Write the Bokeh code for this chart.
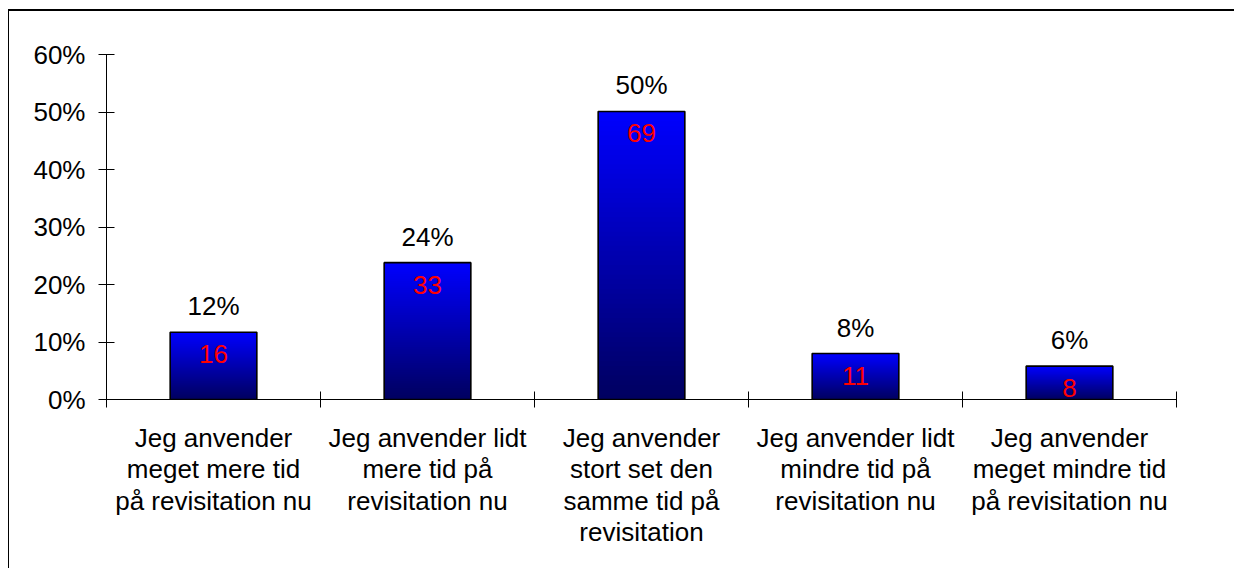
from bokeh.plotting import figure
from bokeh.models import Range1d, FixedTicker, PrintfTickFormatter, ColumnDataSource
from bokeh.core.properties import value
from bokeh.embed import file_html
from bokeh.resources import INLINE

categories = [
    "Jeg anvender\nmeget mere tid\npå revisitation nu",
    "Jeg anvender lidt\nmere tid på\nrevisitation nu",
    "Jeg anvender\nstort set den\nsamme tid på\nrevisitation",
    "Jeg anvender lidt\nmindre tid på\nrevisitation nu",
    "Jeg anvender\nmeget mindre tid\npå revisitation nu",
]
percent_values = [11.7, 23.8, 50.1, 8.0, 5.8]
percent_labels = ["12%", "24%", "50%", "8%", "6%"]
count_labels = ["16", "33", "69", "11", "8"]
y_ticks = [0, 10, 20, 30, 40, 50, 60]

FONT = "Liberation Sans"
FS = "26px"

p = figure(width=1226, height=559, output_backend="svg", toolbar_location=None,
           x_range=Range1d(0, len(categories)), y_range=Range1d(0, 60),
           min_border_left=97, min_border_right=59, min_border_top=43, min_border_bottom=171)
p.styles = {"border-left": "1px solid black", "border-top": "2px solid black",
            "margin-left": "8px", "margin-top": "9px"}
p.outline_line_color = None
p.grid.visible = False
p.background_fill_color = "white"
p.border_fill_color = "white"

centers = [i + 0.5 for i in range(len(categories))]

# gradient: overlapping bars, tallest (brightest) first, shorter darker ones on top
N = 60
xs, tops, cols = [], [], []
for k in range(N - 1, -1, -1):
    t = (k + 0.5) / N
    b = int(round(95 + (255 - 95) * t))
    for c, v in zip(centers, percent_values):
        xs.append(c)
        tops.append(v * (k + 1) / N)
        cols.append("#%02x%02x%02x" % (0, 0, b))
p.vbar(x=xs, bottom=0, top=tops, width=0.405, fill_color=cols, line_color=None)
p.vbar(x=centers, top=percent_values, bottom=0, width=0.405, fill_color=None,
       line_color="black", line_width=1.6)

src = ColumnDataSource(dict(x=centers, y=percent_values, pl=percent_labels, cl=count_labels))
p.text(x="x", y="y", text="pl", source=src, text_align="center", text_baseline="bottom",
       y_offset=-11, text_font=value(FONT), text_font_size=FS, text_color="black")
p.text(x="x", y="y", text="cl", source=src, text_align="center", text_baseline="top",
       y_offset=13, text_font=value(FONT), text_font_size=FS, text_color="red")

xa = p.xaxis[0]
xa.ticker = FixedTicker(ticks=centers, minor_ticks=list(range(len(categories) + 1)))
xa.major_label_overrides = {c: lab for c, lab in zip(centers, categories)}
xa.major_tick_in = 0
xa.major_tick_out = 0
xa.minor_tick_in = 8
xa.minor_tick_out = 8
xa.minor_tick_line_color = "black"
xa.axis_line_color = "black"
xa.major_label_standoff = 15
xa.major_label_text_font = FONT
xa.major_label_text_font_size = FS
xa.major_label_text_color = "black"
xa.major_label_text_line_height = 1.05

ya = p.yaxis[0]
ya.ticker = FixedTicker(ticks=y_ticks, minor_ticks=[])
ya.formatter = PrintfTickFormatter(format="%d%%")
ya.major_tick_in = 8
ya.major_tick_out = 8
ya.major_tick_line_color = "black"
ya.axis_line_color = "black"
ya.major_label_standoff = 13
ya.major_label_text_font = FONT
ya.major_label_text_font_size = FS
ya.major_label_text_color = "black"

open("out.html", "w").write(file_html(p, INLINE))
